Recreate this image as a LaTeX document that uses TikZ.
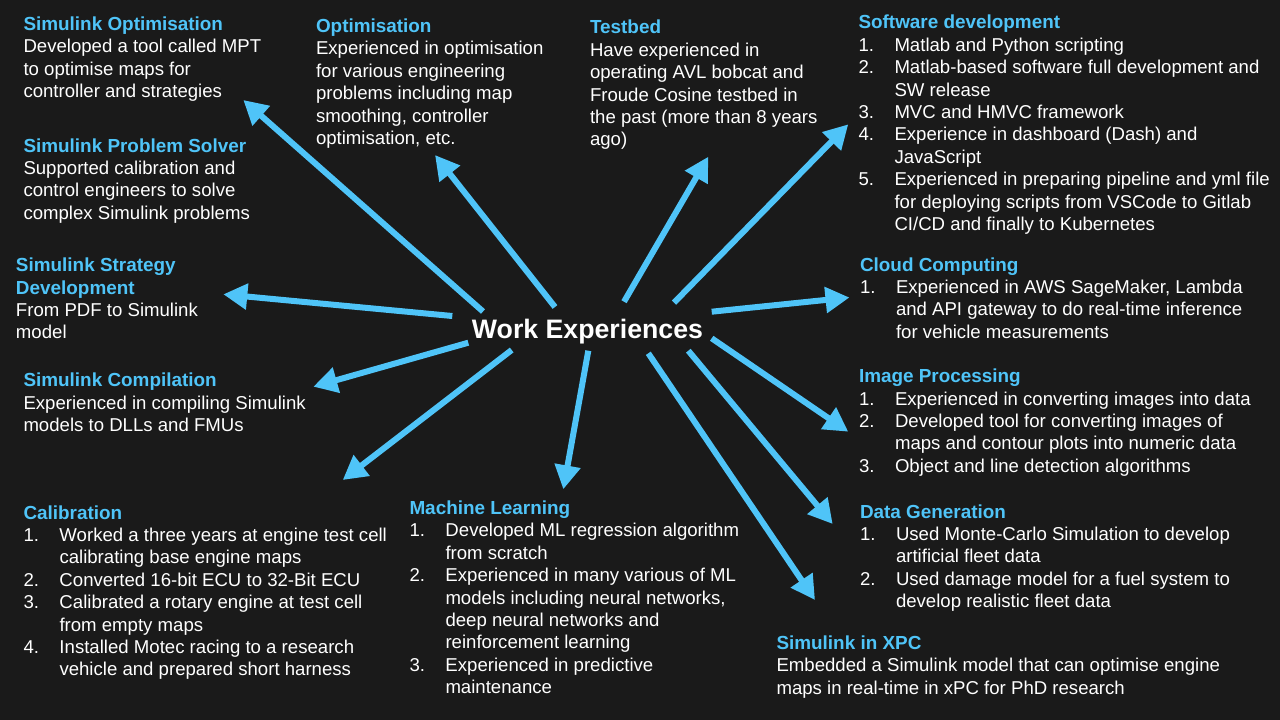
\documentclass[tikz,border=0pt]{standalone}
\usepackage{fontspec}
\setmainfont{Liberation Sans}
\usetikzlibrary{arrows.meta}
\definecolor{bg}{HTML}{1A1A1A}
\definecolor{accent}{HTML}{4FC4F8}
\newcommand{\ttl}[1]{{\color{accent}\fontsize{18.9}{22.4}\selectfont\bfseries #1}}
\newcommand{\itm}[1]{\makebox[36pt][l]{#1}}
\newcommand{\cnt}{\hspace*{36pt}}
\tikzset{
  blk/.style={anchor=north west, yshift=15.68pt, inner sep=0pt, outer sep=0pt,
    align=left, text=white, font=\fontsize{18.6}{22.4}\selectfont},
  ctr/.style={anchor=base, inner sep=0pt, text=white,
    font=\fontsize{26.7}{32}\selectfont\bfseries},
  arr/.style={draw=accent, line width=6pt, -{Triangle[length=24pt,width=25pt]}}
}
\begin{document}
\begin{tikzpicture}[x=1pt,y=-1pt]
\fill[bg] (0,0) rectangle (1280,720);
\useasboundingbox (0,0) rectangle (1280,720);

\node[ctr] (nCenter) at (587.5,338) {Work Experiences};

\node[blk] (nSimOpt) at (23.5,30.5) {\strut\ttl{Simulink Optimisation}\\
Developed a tool called MPT\\
to optimise maps for\\
controller and strategies};

\node[blk] (nProb) at (23.5,152) {\strut\ttl{Simulink Problem Solver}\\
Supported calibration and\\
control engineers to solve\\
complex Simulink problems};

\node[blk] (nStrat) at (16,271.7) {\strut\ttl{Simulink Strategy}\\
\ttl{Development}\\
From PDF to Simulink\\
model};

\node[blk] (nComp) at (23.5,386.7) {\strut\ttl{Simulink Compilation}\\
Experienced in compiling Simulink\\
models to DLLs and FMUs};

\node[blk] (nCal) at (23.5,519) {\strut\ttl{Calibration}\\
\itm{1.}Worked a three years at engine test cell\\
\cnt calibrating base engine maps\\
\itm{2.}Converted 16-bit ECU to 32-Bit ECU\\
\itm{3.}Calibrated a rotary engine at test cell\\
\cnt from empty maps\\
\itm{4.}Installed Motec racing to a research\\
\cnt vehicle and prepared short harness};

\node[blk] (nML) at (409.5,514.5) {\strut\ttl{Machine Learning}\\
\itm{1.}Developed ML regression algorithm\\
\cnt from scratch\\
\itm{2.}Experienced in many various of ML\\
\cnt models including neural networks,\\
\cnt deep neural networks and\\
\cnt reinforcement learning\\
\itm{3.}Experienced in predictive\\
\cnt maintenance};

\node[blk] (nOpt) at (316,32.5) {\strut\ttl{Optimisation}\\
Experienced in optimisation\\
for various engineering\\
problems including map\\
smoothing, controller\\
optimisation, etc.};

\node[blk] (nTest) at (590,33.8) {\strut\ttl{Testbed}\\
Have experienced in\\
operating AVL bobcat and\\
Froude Cosine testbed in\\
the past (more than 8 years\\
ago)};

\node[blk] (nSoft) at (858.5,28.8) {\strut\ttl{Software development}\\
\itm{1.}Matlab and Python scripting\\
\itm{2.}Matlab-based software full development and\\
\cnt SW release\\
\itm{3.}MVC and HMVC framework\\
\itm{4.}Experience in dashboard (Dash) and\\
\cnt JavaScript\\
\itm{5.}Experienced in preparing pipeline and yml file\\
\cnt for deploying scripts from VSCode to Gitlab\\
\cnt CI/CD and finally to Kubernetes};

\node[blk] (nCloud) at (860,271) {\strut\ttl{Cloud Computing}\\
\itm{1.}Experienced in AWS SageMaker, Lambda\\
\cnt and API gateway to do real-time inference\\
\cnt for vehicle measurements};

\node[blk] (nImg) at (859,382.7) {\strut\ttl{Image Processing}\\
\itm{1.}Experienced in converting images into data\\
\itm{2.}Developed tool for converting images of\\
\cnt maps and contour plots into numeric data\\
\itm{3.}Object and line detection algorithms};

\node[blk] (nData) at (860,518) {\strut\ttl{Data Generation}\\
\itm{1.}Used Monte-Carlo Simulation to develop\\
\cnt artificial fleet data\\
\itm{2.}Used damage model for a fuel system to\\
\cnt develop realistic fleet data};

\node[blk] (nXpc) at (776.5,649.5) {\strut\ttl{Simulink in XPC}\\
Embedded a Simulink model that can optimise engine\\
maps in real-time in xPC for PhD research};

% arrow start points (around the central title)
\coordinate (sSimOpt) at (483,311.5);
\coordinate (sOpt)    at (555,307);
\coordinate (sTest)   at (624,301.7);
\coordinate (sSoft)   at (674,302.7);
\coordinate (sCloud)  at (711.7,311.7);
\coordinate (sImg)    at (711.7,338.3);
\coordinate (sData)   at (688.3,350.7);
\coordinate (sXpc)    at (648.3,353.3);
\coordinate (sML)     at (588.3,350.7);
\coordinate (sCal)    at (511.7,350);
\coordinate (sComp)   at (468.3,342.7);
\coordinate (sStrat)  at (452.3,316);
% arrow tips (near each block)
\coordinate (tSimOpt) at (243.3,100);
\coordinate (tOpt)    at (435,155);
\coordinate (tTest)   at (708.3,156.7);
\coordinate (tSoft)   at (848.3,124.3);
\coordinate (tCloud)  at (849.5,297.5);
\coordinate (tImg)    at (848.3,431.7);
\coordinate (tData)   at (832.7,524);
\coordinate (tXpc)    at (815,600);
\coordinate (tML)     at (563.3,489.3);
\coordinate (tCal)    at (342.7,480);
\coordinate (tComp)   at (313.3,386.7);
\coordinate (tStrat)  at (223.3,294.3);

\foreach \k in {SimOpt,Opt,Test,Soft,Cloud,Img,Data,Xpc,ML,Cal,Comp,Strat}
  \draw[arr] (s\k) -- (t\k);
\end{tikzpicture}
\end{document}
